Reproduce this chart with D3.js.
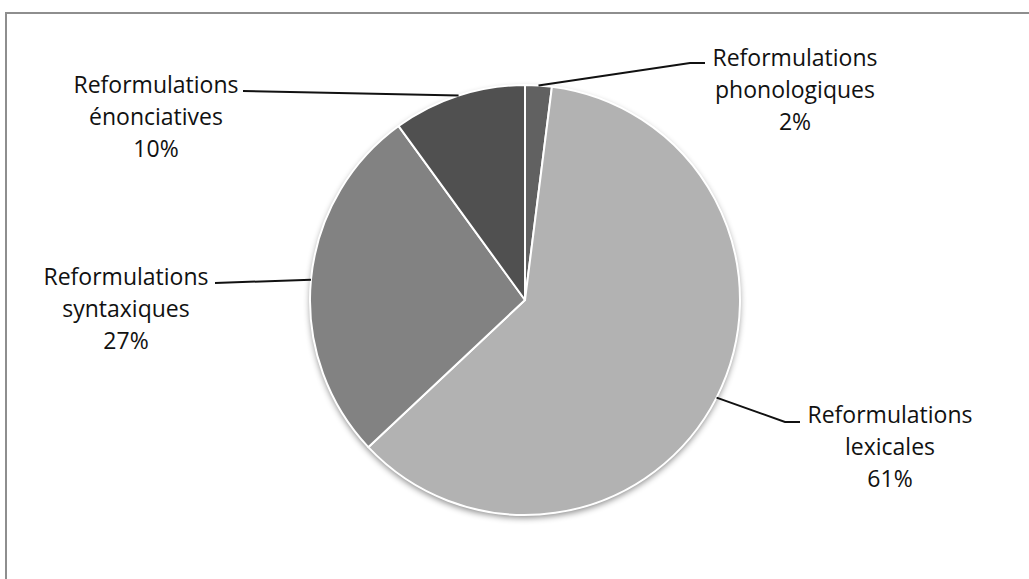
<!DOCTYPE html>
<html>
<head>
<meta charset="utf-8">
<script src="https://cdn.jsdelivr.net/npm/d3@7"></script>
<style>
  html, body { margin: 0; padding: 0; background: #fff; }
  svg { display: block; }
  text { font-family: "Open Sans", "Noto Sans", sans-serif; fill: #111; }
</style>
</head>
<body>
<svg id="chart" width="1029" height="579"></svg>
<script>
// Types de reformulations (part en %)
const categories = [
  "Reformulations phonologiques",
  "Reformulations lexicales",
  "Reformulations syntaxiques",
  "Reformulations énonciatives"
];
const shortNames = ["phonologiques", "lexicales", "syntaxiques", "énonciatives"];
const values = [2, 61, 27, 10];
const percentLabels = ["2%", "61%", "27%", "10%"];
const sliceColors = ["#616161", "#b2b2b2", "#828282", "#505050"];

const svg = d3.select("#chart");
const W = 1029, H = 579;
const cx = 525, cy = 300, R = 215;

// outer frame
svg.append("rect")
  .attr("x", 6).attr("y", 13)
  .attr("width", W + 10).attr("height", H + 10)
  .attr("fill", "none")
  .attr("stroke", "#8e8e8e")
  .attr("stroke-width", 2);

const defs = svg.append("defs");
const shadow = defs.append("filter").attr("id", "pieShadow")
  .attr("x", "-10%").attr("y", "-10%").attr("width", "120%").attr("height", "125%");
shadow.append("feDropShadow")
  .attr("dx", 0).attr("dy", 3)
  .attr("stdDeviation", 3)
  .attr("flood-color", "#000")
  .attr("flood-opacity", 0.45);

const pie = d3.pie().value(d => d).sort(null);
const arcs = pie(values);
const arc = d3.arc().innerRadius(0).outerRadius(R);

const g = svg.append("g").attr("transform", `translate(${cx},${cy})`);

// shadow disc under the slices
g.append("circle").attr("r", R).attr("fill", "#b2b2b2").attr("filter", "url(#pieShadow)");

g.selectAll("path.slice")
  .data(arcs)
  .enter().append("path")
  .attr("class", "slice")
  .attr("d", arc)
  .attr("fill", (d, i) => sliceColors[i])
  .attr("stroke", "#fff")
  .attr("stroke-width", 2)
  .attr("stroke-linejoin", "round");

// label layout: text block position plus the leader's elbow / end points
const labelLayout = [
  { x: 795, y: 66, elbow: [690, 63], end: [705, 63] },
  { x: 890, y: 423, elbow: [785, 422], end: [800, 422] },
  { x: 126, y: 285, elbow: null, end: [215, 283] },
  { x: 156, y: 93, elbow: null, end: [243, 91] }
];

const lineGap = 32;

arcs.forEach((d, i) => {
  const L = labelLayout[i];
  // leader starts on the rim, at the middle angle of the slice
  const a = (d.startAngle + d.endAngle) / 2;
  const px = cx + R * Math.sin(a);
  const py = cy - R * Math.cos(a);

  const pts = L.elbow ? [[px, py], L.elbow, L.end] : [[px, py], L.end];

  svg.append("path")
    .attr("d", d3.line()(pts))
    .attr("fill", "none")
    .attr("stroke", "#111")
    .attr("stroke-width", 2);

  const t = svg.append("text")
    .attr("text-anchor", "middle")
    .attr("font-size", 23);
  ["Reformulations", shortNames[i], percentLabels[i]].forEach((s, k) => {
    t.append("tspan").attr("x", L.x).attr("y", L.y + k * lineGap).text(s);
  });
});
</script>
</body>
</html>
